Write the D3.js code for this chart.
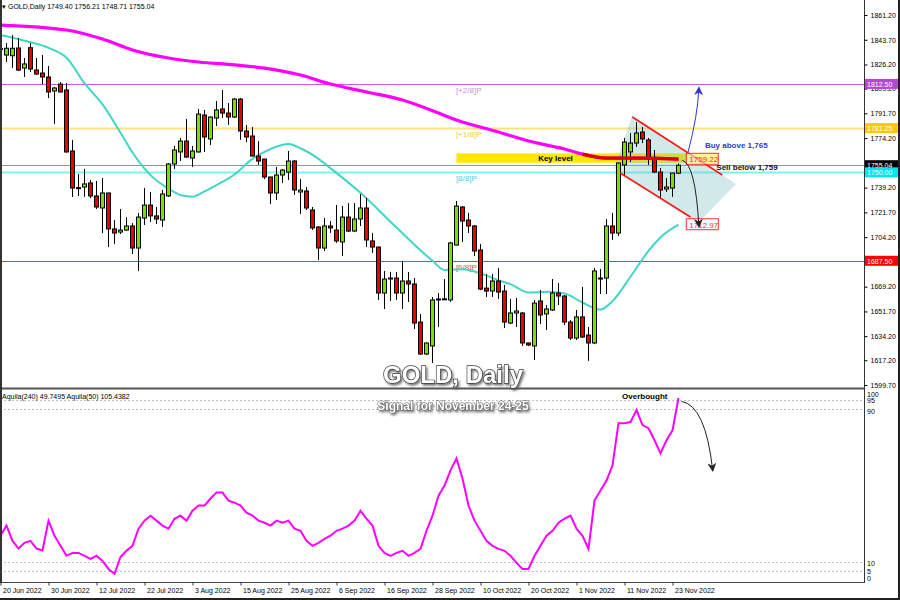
<!DOCTYPE html>
<html><head><meta charset="utf-8">
<script src="https://cdn.jsdelivr.net/npm/d3@7/dist/d3.min.js"></script>
<style>
body{margin:0;background:#fff;}
svg{display:block;font-family:"Liberation Sans",Arial,sans-serif;}
</style>
</head><body>
<svg id="c" width="900" height="600"></svg>
<script>
// ---------------- DATA ----------------
const opens  = [1837.5,1832.9,1832.4,1837.9,1823.7,1838.1,1822.3,1820.2,1817.4,1807.5,1812.4,1808.2,1765.1,1739.2,1739.6,1742.5,1733.3,1724.8,1735.4,1710.0,1707.8,1709.2,1712.1,1696.5,1717.7,1726.9,1719.2,1716.3,1733.3,1755.9,1764.4,1772.1,1760.1,1764.4,1790.5,1773.6,1788.4,1794.8,1791.9,1789.1,1801.8,1779.2,1775.7,1761.5,1759.4,1746.7,1735.4,1748.1,1750.2,1758.0,1736.1,1736.8,1723.4,1711.4,1696.5,1712.1,1709.2,1700.8,1718.4,1708.5,1717.0,1724.8,1701.5,1697.2,1664.7,1674.6,1675.3,1664.7,1673.2,1671.1,1644.2,1621.6,1627.3,1660.3,1660.3,1659.8,1698.6,1725.5,1716.3,1712.1,1695.1,1668.2,1666.1,1673.2,1666.1,1643.5,1650.6,1650.6,1629.4,1627.3,1659.1,1649.9,1652.7,1664.7,1662.6,1644.2,1632.9,1647.8,1635.0,1629.4,1675.0,1675.3,1712.1,1707.1,1755.2,1764.4,1770.7,1778.5,1772.9,1760.1,1750.2,1738.2,1738.9,1749.40];
const highs  = [1840.0,1841.4,1847.1,1844.9,1830.8,1841.4,1830.8,1832.9,1825.2,1810.3,1813.8,1813.1,1772.9,1748.8,1752.4,1744.6,1743.9,1746.0,1735.6,1716.3,1724.1,1718.4,1714.2,1721.3,1738.9,1736.1,1725.5,1737.5,1756.6,1768.6,1774.3,1787.7,1768.6,1794.8,1794.1,1789.5,1800.4,1808.2,1799.0,1802.5,1802.5,1783.5,1782.0,1772.1,1759.6,1746.9,1753.8,1752.4,1765.1,1758.7,1745.3,1739.6,1725.5,1711.6,1717.7,1715.6,1726.9,1726.2,1728.3,1728.3,1734.7,1731.9,1707.1,1697.4,1680.3,1679.6,1679.6,1687.3,1679.6,1675.3,1649.9,1629.6,1661.9,1664.7,1674.6,1700.8,1729.7,1726.2,1721.3,1712.8,1699.3,1678.1,1678.1,1682.4,1670.4,1660.5,1661.2,1651.3,1629.6,1659.8,1666.8,1656.2,1674.6,1671.8,1663.3,1645.6,1652.7,1669.0,1640.7,1682.4,1681.7,1717.0,1721.3,1756.8,1774.3,1777.8,1785.6,1782.0,1774.3,1765.8,1753.1,1746.0,1749.6,1756.21];
const lows   = [1828.0,1828.0,1823.7,1821.6,1817.4,1820.9,1818.8,1812.4,1802.5,1784.2,1806.5,1764.0,1732.6,1733.3,1732.6,1731.9,1724.1,1707.1,1697.2,1699.3,1706.4,1708.5,1692.3,1680.3,1712.8,1714.9,1713.5,1711.4,1732.6,1752.4,1758.0,1760.1,1753.8,1764.0,1764.4,1769.3,1782.7,1788.4,1783.5,1788.4,1772.9,1771.4,1761.3,1755.2,1745.3,1727.6,1730.5,1742.5,1744.6,1734.0,1720.6,1723.4,1709.2,1688.0,1694.4,1707.1,1700.1,1690.9,1707.8,1707.8,1712.1,1697.2,1693.0,1659.8,1653.4,1659.1,1659.8,1653.4,1658.4,1639.3,1620.9,1620.9,1615.3,1640.7,1659.8,1658.4,1698.4,1700.8,1707.1,1690.9,1666.8,1661.9,1661.9,1660.5,1640.0,1642.8,1640.7,1627.3,1627.3,1617.4,1642.8,1638.6,1652.0,1656.2,1642.1,1631.5,1631.5,1632.9,1616.7,1628.7,1664.0,1664.0,1702.2,1705.0,1748.1,1757.3,1767.9,1770.7,1755.2,1749.5,1731.9,1736.1,1732.6,1748.71];
const closes = [1836.8,1837.7,1837.7,1822.3,1826.6,1823.0,1819.5,1817.4,1806.8,1809.6,1806.8,1764.4,1738.9,1739.0,1741.8,1733.3,1725.5,1735.4,1710.0,1707.1,1709.2,1712.1,1696.5,1718.4,1726.9,1719.2,1717.0,1734.7,1755.9,1765.8,1772.1,1760.8,1765.1,1791.2,1775.0,1789.1,1794.1,1791.9,1789.1,1801.8,1779.2,1775.0,1761.5,1758.0,1746.7,1735.4,1748.1,1751.6,1758.0,1737.5,1737.5,1724.8,1710.7,1696.5,1712.1,1710.7,1701.5,1718.4,1708.5,1717.0,1724.8,1702.2,1697.2,1664.7,1674.6,1675.3,1664.7,1673.2,1671.1,1643.5,1621.6,1629.4,1659.8,1660.5,1660.6,1700.1,1726.2,1715.6,1712.1,1694.4,1667.5,1666.1,1673.2,1665.4,1644.2,1650.6,1652.0,1629.4,1628.0,1657.6,1649.2,1653.4,1664.7,1662.6,1644.2,1632.9,1647.8,1633.6,1629.4,1680.3,1675.3,1712.1,1707.1,1756.6,1771.4,1770.7,1777.8,1773.6,1760.1,1750.2,1737.5,1739.6,1749.5,1755.04];

// moving averages (bar index, price)
const maSlowIdx = [0,11,17,22,28,33,39,44,50,55,61,67,73,76,83,88,94,97,101,107,113];
const maSlowVal = [1854.1,1850.6,1844.2,1836.5,1830.8,1828.0,1825.9,1823.7,1818.8,1812.4,1806.8,1801.1,1791.9,1787.0,1778.5,1772.1,1766.5,1762.9,1760.1,1760.1,1759.4];
const maFastIdx = [0,5,8,11,14,17,20,22,25,28,30,32,34,36,39,42,44,48,50,53,55,60,66,72,74,77,80,83,85,88,91,94,97,100,102,105,108,110,113];
const maFastVal = [1847.1,1842.0,1838.0,1831.0,1813.0,1798.0,1778.0,1764.0,1748.0,1738.5,1734.0,1732.8,1736.5,1741.0,1748.5,1759.5,1764.5,1770.0,1767.0,1759.5,1752.9,1735.5,1711.0,1687.5,1681.0,1681.5,1678.6,1673.7,1671.0,1665.0,1665.6,1664.3,1658.0,1653.0,1659.0,1676.2,1694.5,1704.0,1712.97];

// oscillator (Aquila) values per bar
const oscVals = [23.7,29,21,17,20,21,17,16,31.6,23.7,18.4,13.2,14.7,14.7,13.2,11.6,13.2,10.5,6.3,3.7,12.6,15.8,18.4,27.4,31.6,34.2,31.6,29,27.4,32.6,34.2,31.6,36.8,39.5,39.5,43.2,46.3,46.3,42.1,41,39.5,35.8,34.2,31.6,30.5,29,31.6,30.5,31.6,27.4,26.3,21,18.4,20,22,23.7,26.3,27.4,29,31.6,36.8,32.6,29,18.4,14.7,13.2,14.7,15.8,13.2,14.7,16.8,26.3,34.2,44.7,50,57.9,64.2,53.7,39.5,31.6,26.3,21,18.4,16.8,15.8,13.2,9.5,6.3,6.3,13.2,18.4,23.7,26.3,30.5,32.6,34.2,27.4,23.7,16.8,42.1,47.4,52.6,60.5,82.6,82.6,83.2,89.5,81.6,80,73.7,66.8,73.7,78.9,95.8];

// axes
const priceTicks = [1861.20,1843.70,1826.20,1809.20,1791.70,1774.20,1739.20,1721.70,1704.20,1669.20,1651.70,1634.20,1617.20,1599.70];
const dateTickIdx = [0,8,16,24,32,40,48,56,64,72,80,88,96,104,112];
const dateLabels = ["20 Jun 2022","30 Jun 2022","12 Jul 2022","22 Jul 2022","3 Aug 2022","15 Aug 2022","25 Aug 2022","6 Sep 2022","16 Sep 2022","28 Sep 2022","10 Oct 2022","20 Oct 2022","1 Nov 2022","11 Nov 2022","23 Nov 2022"];
const oscTicks = [100,95,90,10,5,0];
const oscGrid = [95,90,10,5];

// horizontal levels
const levelValues = [1812.50,1781.25,1755.04,1750.00,1687.50];
const levelTags   = ["[+2/8]P","[+1/8]P","","[8/8]P","[6/8]P"];
const levelColors = ["#c45ce0","#ffe27a","#8a96a8","#7ff2f2","#ff3030"];
const levelTagColors = ["#c890f0","#f5c842","#000","#40d0f0","#f04848"];
const levelBoxColors = ["#b347d6","#ffc800","#000000","#00e5f0","#ff0000"];

// annotations (bar index, price)
const keyLevelTop = 1763.4, keyLevelBottom = 1756.8;
const keyLevelFrom = 76, keyLevelTo = 119.6;
const channelUpper = [[105.3,1789.1],[120.3,1748.1]];
const channelLower = [[103.3,1749.5],[115.0,1718.4]];
const wedge = [[102.3,1753.1],[105.3,1790.5],[122.6,1741.8],[116.1,1713.5]];
const keyPrice = 1759.22, targetPrice = 1712.97;

// ---------------- DRAW ----------------
const svg = d3.select("#c");
const RX = 864;
const x = d3.scaleLinear().domain([0,113]).range([0.5,678.5]);
const y = d3.scaleLinear().domain([1599.7,1861.2]).range([385,15]);
const yo = d3.scaleLinear().domain([0,100]).range([581,390]);

const defs = svg.append("defs");
defs.append("clipPath").attr("id","cp").append("rect").attr("x",0).attr("y",0).attr("width",RX).attr("height",388);
defs.append("clipPath").attr("id","co").append("rect").attr("x",0).attr("y",389).attr("width",RX).attr("height",193);
const f = defs.append("filter").attr("id","sh").attr("x","-10%").attr("y","-30%").attr("width","130%").attr("height","170%");
f.append("feDropShadow").attr("dx",1.5).attr("dy",2).attr("stdDeviation",1).attr("flood-color","#555").attr("flood-opacity",0.8);
function marker(id,color){
  defs.append("marker").attr("id",id).attr("viewBox","0 0 10 10").attr("refX",8).attr("refY",5)
    .attr("markerWidth",9).attr("markerHeight",9).attr("markerUnits","userSpaceOnUse").attr("orient","auto")
    .append("path").attr("d","M0,0 L10,5 L0,10 L3,5 z").attr("fill",color);
}
marker("ab","#3535e0"); marker("ak","#222");

svg.append("rect").attr("width",900).attr("height",600).attr("fill","#fff");

const P = svg.append("g").attr("clip-path","url(#cp)");
const O = svg.append("g").attr("clip-path","url(#co)");

// key level band
P.append("rect").attr("x",x(keyLevelFrom)).attr("width",x(keyLevelTo)-x(keyLevelFrom))
  .attr("y",y(keyLevelTop)).attr("height",y(keyLevelBottom)-y(keyLevelTop)).attr("fill","#ffe800");

// level lines
levelValues.forEach((v,i)=>{
  P.append("line").attr("x1",0).attr("x2",RX).attr("y1",Math.round(y(v))+0.5).attr("y2",Math.round(y(v))+0.5)
   .attr("stroke",levelColors[i]).attr("stroke-width",(i===1||i===3)?2:1);
  if(levelTags[i]) P.append("text").attr("x",x(75.9)).attr("y",y(v)+9).attr("font-size",8)
   .attr("fill",levelTagColors[i]).text(levelTags[i]);
});

// wedge shading
P.append("path").attr("d",d3.line().x(d=>x(d[0])).y(d=>y(d[1])).curve(d3.curveLinearClosed)(wedge))
  .attr("fill","#7fbfbf").attr("fill-opacity",0.35);

// MAs
const lineP = d3.line().x(d=>x(d[0])).y(d=>y(d[1])).curve(d3.curveMonotoneX);
const slow = maSlowIdx.map((d,i)=>[d,maSlowVal[i]]);
const fast = maFastIdx.map((d,i)=>[d,maFastVal[i]]);
P.append("path").attr("d",lineP(fast)).attr("fill","none").attr("stroke","#3fd6c8").attr("stroke-width",2);
P.append("path").attr("d",lineP(slow)).attr("fill","none").attr("stroke","#ff00ff").attr("stroke-width",3.2);

// candles
const bars = d3.range(opens.length);
const cg = P.append("g");
cg.selectAll("line.w").data(bars).join("line")
  .attr("x1",i=>Math.floor(x(i))+0.5).attr("x2",i=>Math.floor(x(i))+0.5)
  .attr("y1",i=>y(highs[i])).attr("y2",i=>y(lows[i])).attr("stroke","#000").attr("stroke-width",1);
cg.selectAll("rect.b").data(bars).join("rect")
  .attr("x",i=>Math.floor(x(i))-1.5).attr("width",4)
  .attr("y",i=>y(Math.max(opens[i],closes[i])))
  .attr("height",i=>Math.max(1,Math.abs(y(opens[i])-y(closes[i]))))
  .attr("fill",i=>closes[i]>=opens[i]?"#7ddc00":"#e80000").attr("stroke","#000").attr("stroke-width",1);

// red highlighted MA segment
P.append("path").attr("d",lineP(slow.filter(d=>d[0]>=97))).attr("fill","none").attr("stroke","#e00000").attr("stroke-width",3.2);

// channel lines
[channelUpper,channelLower].forEach(c=>{
  P.append("line").attr("x1",x(c[0][0])).attr("y1",y(c[0][1])).attr("x2",x(c[1][0])).attr("y2",y(c[1][1]))
   .attr("stroke","#ff1a1a").attr("stroke-width",1.6);
});

// labels key / target
function tagBox(price,txt){
  const g=P.append("g");
  g.append("rect").attr("x",x(114.3)).attr("y",y(price)-6).attr("width",32).attr("height",11)
    .attr("fill","#fff").attr("fill-opacity",0.55).attr("stroke","#ff3030").attr("stroke-width",1);
  g.append("text").attr("x",x(114.3)+3).attr("y",y(price)+3).attr("font-size",8).attr("fill","#f03030").text(txt);
}
tagBox(keyPrice,"1759.22");
tagBox(targetPrice,"1712.97");

P.append("text").attr("x",x(92.5)).attr("y",y(1760.1)+3).attr("text-anchor","middle").attr("font-size",8)
  .attr("font-weight","bold").attr("fill","#000").text("Key level");
P.append("text").attr("x",x(117.4)).attr("y",y(1767.2)).attr("font-size",8).attr("font-weight","bold")
  .attr("fill","#3535e0").text("Buy above 1,765");
P.append("text").attr("x",x(119.3)).attr("y",y(1751.3)).attr("font-size",8).attr("font-weight","bold")
  .attr("fill","#111").text("Sell below 1,759");

// arrows
const buyArrow = [[114.6,1764.4],[116.2,1790],[116.4,1809.6]];
const sellArrow = [[113.6,1758.5],[115.8,1756.5],[116.4,1712.0]];
const ob = [[113.5,94],[117.5,92],[118.7,58]];
function qpath(a,sx,sy){ return `M${sx(a[0][0])},${sy(a[0][1])} Q${sx(a[1][0])},${sy(a[1][1])} ${sx(a[2][0])},${sy(a[2][1])}`; }
P.append("path").attr("d",qpath(buyArrow,x,y)).attr("fill","none").attr("stroke","#3535e0").attr("stroke-width",1).attr("marker-end","url(#ab)");
P.append("path").attr("d",qpath(sellArrow,x,y)).attr("fill","none").attr("stroke","#222").attr("stroke-width",1).attr("marker-end","url(#ak)");

// oscillator panel
oscGrid.forEach(v=>{
  O.append("line").attr("x1",0).attr("x2",RX).attr("y1",Math.round(yo(v))+0.5).attr("y2",Math.round(yo(v))+0.5)
   .attr("stroke","#c0c0c0").attr("stroke-dasharray","2,2");
});
O.append("path").attr("d",d3.line().x((d,i)=>x(i)).y(d=>yo(d))(oscVals)).attr("fill","none").attr("stroke","#ff00ff").attr("stroke-width",2);
svg.append("path").attr("d",qpath(ob,x,yo)).attr("fill","none").attr("stroke","#222").attr("stroke-width",1).attr("marker-end","url(#ak)");
svg.append("text").attr("x",x(103.6)).attr("y",399).attr("font-size",8).attr("font-weight","bold").text("Overbought");
svg.append("text").attr("x",2).attr("y",399).attr("font-size",7).attr("fill","#000").text("Aquila(240) 49.7495  Aquila(50) 105.4382");

// frames
svg.append("line").attr("x1",0).attr("x2",RX).attr("y1",388.5).attr("y2",388.5).attr("stroke","#555").attr("stroke-width",2);
svg.append("line").attr("x1",0).attr("x2",RX+1).attr("y1",582.5).attr("y2",582.5).attr("stroke","#444").attr("stroke-width",1);
svg.append("line").attr("x1",1).attr("x2",1).attr("y1",0).attr("y2",583).attr("stroke","#333").attr("stroke-width",2);

// price axis
const ya = svg.append("g").attr("transform",`translate(${RX+0.5},0)`)
  .call(d3.axisRight(y).tickValues(priceTicks).tickSize(3).tickPadding(3).tickFormat(d3.format(".2f")));
ya.select(".domain").attr("d","M0,0V583").attr("stroke","#333");
ya.selectAll("text").attr("font-size",7).attr("font-family","Liberation Sans, Arial").attr("fill","#000");

// level value boxes on axis
levelValues.forEach((v,i)=>{
  svg.append("rect").attr("x",RX+1).attr("y",y(v)-5).attr("width",33).attr("height",10).attr("fill",levelBoxColors[i]);
  svg.append("text").attr("x",RX+3).attr("y",y(v)+3).attr("font-size",7).attr("fill","#fff").text(v.toFixed(2));
});

// osc axis labels
const oscOff = {100:4,95:1,90:2,10:2,5:0,0:-3};
oscTicks.forEach(v=>{
  svg.append("text").attr("x",RX+3).attr("y",yo(v)+oscOff[v]+2.5).attr("font-size",7).attr("fill","#000").text(v);
});

// date axis
const xa = svg.append("g").attr("transform","translate(0,582.5)")
  .call(d3.axisBottom(x).tickValues(dateTickIdx).tickSize(3).tickFormat((d,i)=>dateLabels[i]));
xa.select(".domain").remove();
xa.selectAll(".tick line").attr("stroke","#333");
xa.selectAll("text").attr("text-anchor","start").attr("dx",2).attr("dy",0).attr("y",10).attr("font-size",7).attr("font-family","Liberation Sans, Arial").attr("fill","#000");

// header
svg.append("text").attr("x",2).attr("y",9).attr("font-size",7).attr("fill","#000").text("▾ GOLD,Daily  1749.40 1756.21 1748.71 1755.04");

// titles
svg.append("text").attr("x",453).attr("y",383).attr("text-anchor","middle").attr("font-size",24).attr("font-weight","bold")
  .attr("fill","#fff").attr("stroke","#3a3a3a").attr("stroke-width",1.3).attr("paint-order","stroke").attr("filter","url(#sh)").text("GOLD, Daily");
svg.append("text").attr("x",453).attr("y",410).attr("text-anchor","middle").attr("font-size",12).attr("font-weight","bold")
  .attr("fill","#fff").attr("stroke","#555").attr("stroke-width",0.9).attr("paint-order","stroke").attr("filter","url(#sh)").text("Signal for November 24-25");

// outer frame right/bottom
svg.append("line").attr("x1",899).attr("x2",899).attr("y1",0).attr("y2",600).attr("stroke","#222").attr("stroke-width",2);
svg.append("line").attr("x1",0).attr("x2",900).attr("y1",599).attr("y2",599).attr("stroke","#222").attr("stroke-width",2);
</script>
</body></html>
